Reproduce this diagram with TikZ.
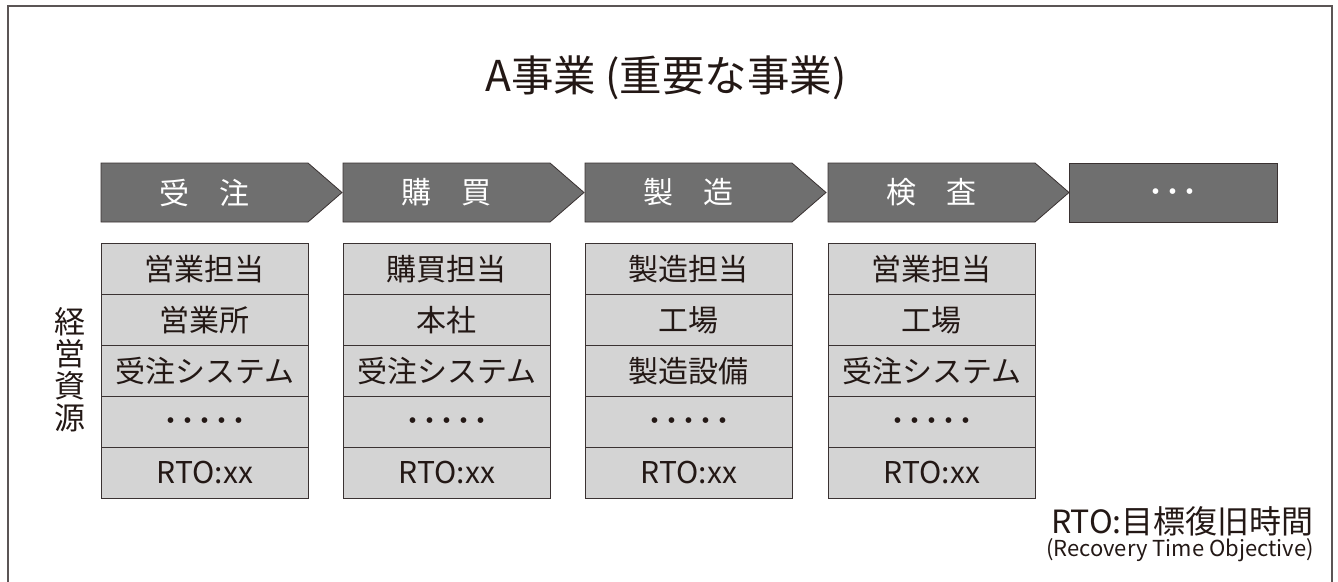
\documentclass[tikz,border=0pt]{standalone}
\usepackage{fontspec}
\setmainfont{Noto Sans CJK JP}
\definecolor{ink}{HTML}{231815}
\definecolor{chevgray}{HTML}{6F6F6F}
\definecolor{boxgray}{HTML}{D4D4D4}
\definecolor{linedark}{HTML}{3A3232}
\definecolor{framecol}{HTML}{5B5555}
\begin{document}
\begin{tikzpicture}[x=1pt,y=-1pt,
  chev/.style={fill=chevgray, draw=linedark, line width=0.8pt},
  chevtext/.style={text=white, font=\fontsize{30}{30}\selectfont, inner sep=0pt},
  cell/.style={rectangle, fill=boxgray, draw=linedark, line width=0.8pt,
    minimum width=207pt, minimum height=51pt, inner sep=0pt, anchor=north west,
    text=ink, font=\fontsize{30}{30}\selectfont},
  dotcell/.style={cell, font=\fontsize{34}{34}\selectfont}]
\useasboundingbox (0,0) rectangle (1338,581);
\draw[framecol, line width=1.5pt] (8,582) -- (8,6) -- (1332,6) -- (1332,582);
\node[text=ink, font=\fontsize{42.5}{42.5}\selectfont] (title) at (666,78) {A事業\hspace{9pt}(重要な事業)};
\foreach \i/\x/\lab in {1/101/受　注, 2/343/購　買, 3/585/製　造, 4/828/検　査} {
  \draw[chev] (\x,163) -- (\x+207,163) -- (\x+241,192.5) -- (\x+207,222) -- (\x,222) -- cycle;
  \node[chevtext] (c\i) at (\x+103.5,192.5) {\lab};
}
\draw[chev] (1069,163) rectangle (1277,222);
\node[chevtext, font=\fontsize{34}{34}\selectfont] (c5) at (1173,197) {･･･};
\foreach \i/\x/\a/\b/\c in {1/101/営業担当/営業所/受注システム, 2/343/購買担当/本社/受注システム, 3/585/製造担当/工場/製造設備, 4/828/営業担当/工場/受注システム} {
  \node[cell] (b\i r1) at (\x,243) {\a};
  \node[cell] (b\i r2) at (\x,294) {\b};
  \node[cell] (b\i r3) at (\x,345) {\c};
  \node[dotcell] (b\i r4) at (\x,396) {\smash{\raisebox{-12pt}{･････}}};
  \node[cell] (b\i r5) at (\x,447) {RTO:xx};
}
\node[text=ink, align=center, font=\fontsize{31}{32}\selectfont] (keiei) at (70,370) {経\\営\\資\\源};
\node[text=ink, anchor=east, inner sep=0pt, font=\fontsize{32}{32}\selectfont] (rto) at (1314,521) {RTO:目標復旧時間};
\node[text=ink, anchor=east, inner sep=0pt, font=\fontsize{22}{22}\selectfont] (rtoen) at (1314,550) {(Recovery Time Objective)};
\end{tikzpicture}
\end{document}
